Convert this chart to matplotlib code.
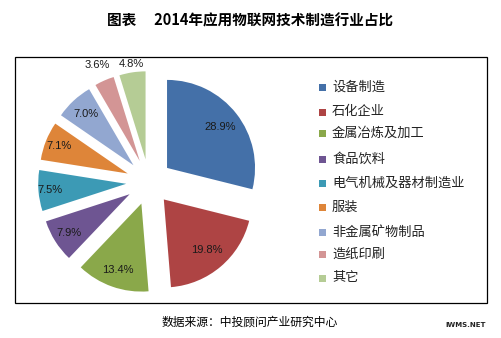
import numpy as np
import matplotlib
matplotlib.use("Agg")
import matplotlib.pyplot as plt
from matplotlib.patches import Rectangle

plt.rcParams['font.family'] = ['Noto Sans CJK SC', 'DejaVu Sans']

categories = ["设备制造", "石化企业", "金属冶炼及加工", "食品饮料", "电气机械及器材制造业",
              "服装", "非金属矿物制品", "造纸印刷", "其它"]
values = [28.9, 19.8, 13.4, 7.9, 7.5, 7.1, 7.0, 3.6, 4.8]
labels = ["28.9%", "19.8%", "13.4%", "7.9%", "7.5%", "7.1%", "7.0%", "3.6%", "4.8%"]
title = "图表　 2014年应用物联网技术制造行业占比"
source = "数据来源：中投顾问产业研究中心"

colors = ["#4470A8", "#AE4444", "#8AA84A", "#6E5592", "#3C9AB5",
          "#DE8539", "#92A7D0", "#D39595", "#B5CC95"]
label_dist = [0.76, 0.76, 0.80, 0.82, 0.87, 0.84, 0.79, 1.19, 1.10]

W, H = 501, 338
fig = plt.figure(figsize=(W / 100, H / 100), dpi=100)
fig.patch.set_facecolor("white")

# chart frame
fig.patches.append(Rectangle((15 / W, 1 - 303 / H), 472 / W, 246 / H,
                             transform=fig.transFigure, fill=False,
                             edgecolor="black", linewidth=0.9))

# pie axes: pixel region x 15..295, y 60..303 ; center (149,182), radius 88px
cx, cy, R = 149, 182, 88
x0, x1, y0, y1 = 15, 295, 60, 303
ax = fig.add_axes([x0 / W, 1 - y1 / H, (x1 - x0) / W, (y1 - y0) / H])
wedges, _ = ax.pie(values, colors=colors, startangle=90, counterclock=False,
                   explode=[0.26] * len(values), radius=1.0,
                   wedgeprops=dict(linewidth=0))
ax.set_aspect('auto')
ax.set_xlim((x0 - cx) / R, (x1 - cx) / R)
ax.set_ylim((cy - y1) / R, (cy - y0) / R)
ax.axis('off')

for w, lab, d in zip(wedges, labels, label_dist):
    mid = np.deg2rad((w.theta1 + w.theta2) / 2)
    c = w.center
    ax.text(c[0] + d * np.cos(mid), c[1] + d * np.sin(mid), lab,
            ha='center', va='center', fontsize=8, color='#1a1a1a',
            family=['Liberation Sans', 'DejaVu Sans'])

# legend
leg_y = [87, 112, 133, 159, 183, 207, 232, 254, 278]
for cat, col, yy in zip(categories, colors, leg_y):
    fig.patches.append(Rectangle((319 / W, 1 - (yy + 3.5) / H), 7 / W, 7 / H,
                                 transform=fig.transFigure, facecolor=col,
                                 edgecolor='none'))
    fig.text(332 / W, 1 - yy / H, cat, ha='left', va='center',
             fontsize=9.5, color='#222222')

fig.text(250 / W, 1 - 20 / H, title, ha='center', va='center',
         fontsize=10.5, fontweight='bold', color='black')
fig.text(250 / W, 1 - 322 / H, source, ha='center', va='center',
         fontsize=8.5, color='black')
fig.text(466 / W, 1 - 325 / H, "IWMS.NET", ha='center', va='center',
         fontsize=5, fontweight='bold', color='#222222',
         family=['DejaVu Sans'])

fig.savefig("out.png", dpi=100, facecolor="white")
